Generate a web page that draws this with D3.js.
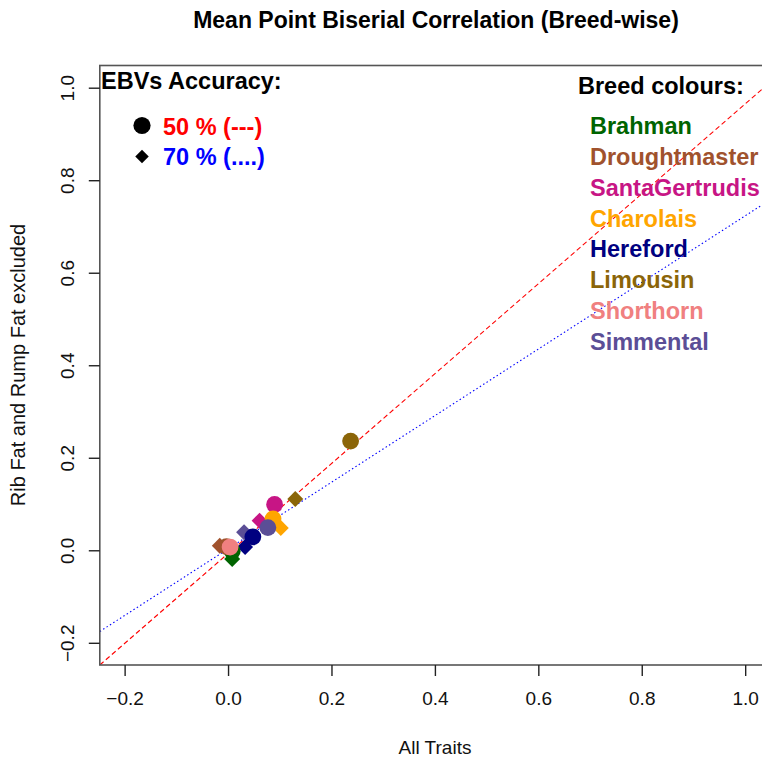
<!DOCTYPE html>
<html><head><meta charset="utf-8">
<script src="https://cdn.jsdelivr.net/npm/d3@7"></script>
<style>body{margin:0;background:#fff}svg{display:block}</style></head>
<body><svg id="c" width="762" height="760"></svg>
<script>
const breeds = ["Brahman","Droughtmaster","SantaGertrudis","Charolais","Hereford","Limousin","Shorthorn","Simmental"];
const breedColors = ["#006400","#A0522D","#C71585","#FFA500","#000080","#8B6508","#F08080","#5B4E96"];
// 50 % accuracy (circles)
const x50 = [0.008, -0.003, 0.090, 0.087, 0.048, 0.237, 0.004, 0.077];
const y50 = [-0.002, 0.008, 0.099, 0.068, 0.029, 0.236, 0.007, 0.049];
// 70 % accuracy (diamonds)
const x70 = [0.008, -0.016, 0.061, 0.102, 0.033, 0.130, 0.001, 0.031];
const y70 = [-0.019, 0.010, 0.064, 0.048, 0.007, 0.111, 0.004, 0.039];
const fitIntercept = [-0.007, 0.003];
const fitSlope = [0.972, 0.720];
const accLabels = ["50 % (---)", "70 % (....)"];
const accColors = ["#FF0000", "#0000FF"];
const xTicks = [-0.2, 0.0, 0.2, 0.4, 0.6, 0.8, 1.0];
const yTicks = [-0.2, 0.0, 0.2, 0.4, 0.6, 0.8, 1.0];

const svg = d3.select("#c");
const L = 99.8, R = 770, T = 65.5, B = 665;
const dom = [-0.248, 1.048];
const x = d3.scaleLinear().domain(dom).range([L, R]);
const y = d3.scaleLinear().domain(dom).range([B, T]);
const font = "'Liberation Sans', Arial, sans-serif";

// title
svg.append("text").attr("x", 436).attr("y", 28).attr("text-anchor", "middle")
  .attr("font-family", font).attr("font-weight", "bold").attr("font-size", 23)
  .text("Mean Point Biserial Correlation (Breed-wise)");

// clip
svg.append("clipPath").attr("id", "pc").append("rect")
  .attr("x", L).attr("y", T).attr("width", R - L).attr("height", B - T);

// fit lines
const g = svg.append("g").attr("clip-path", "url(#pc)");
const dashes = ["5,3", "1.5,2.5"];
fitIntercept.forEach((a, i) => {
  const b = fitSlope[i];
  g.append("line")
    .attr("x1", x(dom[0])).attr("y1", y(a + b * dom[0]))
    .attr("x2", x(dom[1])).attr("y2", y(a + b * dom[1]))
    .attr("stroke", accColors[i]).attr("stroke-width", 1.1)
    .attr("stroke-dasharray", dashes[i]);
});

// points: diamonds first, then circles
const diamond = d3.symbol().type(d3.symbolDiamond2).size(2 * 9 * 9);
g.selectAll("path.d").data(breeds).join("path").attr("class", "d")
  .attr("d", diamond)
  .attr("transform", (d, i) => `translate(${x(x70[i])},${y(y70[i])})`)
  .attr("fill", (d, i) => breedColors[i]);
g.selectAll("circle.c").data(breeds).join("circle").attr("class", "c")
  .attr("cx", (d, i) => x(x50[i])).attr("cy", (d, i) => y(y50[i]))
  .attr("r", 8.4).attr("fill", (d, i) => breedColors[i]);

// frame
svg.append("rect").attr("x", L).attr("y", T).attr("width", R - L).attr("height", B - T)
  .attr("fill", "none").attr("stroke", "#555").attr("stroke-width", 1.6);

// axes
const xa = svg.append("g").attr("transform", `translate(0,${B})`)
  .call(d3.axisBottom(x).tickValues(xTicks).tickFormat(d3.format(".1f")).tickSize(11).tickPadding(16));
xa.select(".domain").remove();
xa.selectAll("line").attr("stroke", "#222").attr("stroke-width", 1.4);
xa.selectAll("text").attr("font-family", font).attr("font-size", 19).attr("fill", "#111");

const ya = svg.append("g").attr("transform", `translate(${L},0)`)
  .call(d3.axisLeft(y).tickValues(yTicks).tickFormat(d3.format(".1f")).tickSize(11));
ya.select(".domain").remove();
ya.selectAll("line").attr("stroke", "#222").attr("stroke-width", 1.4);
ya.selectAll("text").attr("font-family", font).attr("font-size", 19).attr("fill", "#111")
  .attr("text-anchor", "middle").attr("x", 0).attr("dy", 0)
  .attr("transform", "translate(-26,0) rotate(-90)")
  .attr("y", 0);

// axis titles
svg.append("text").attr("x", 435).attr("y", 754).attr("text-anchor", "middle")
  .attr("font-family", font).attr("font-size", 19).attr("fill", "#111").text("All Traits");
svg.append("text").attr("transform", "translate(25,365) rotate(-90)").attr("text-anchor", "middle")
  .attr("font-family", font).attr("font-size", 20).attr("fill", "#111").text("Rib Fat and Rump Fat excluded");

// accuracy legend
svg.append("text").attr("x", 101).attr("y", 88.5).attr("font-family", font).attr("font-weight", "bold")
  .attr("font-size", 23.5).attr("fill", "#000").text("EBVs Accuracy:");
svg.append("circle").attr("cx", 142).attr("cy", 125.5).attr("r", 8.6).attr("fill", "#000");
svg.append("path").attr("d", d3.symbol().type(d3.symbolDiamond2).size(2 * 7.6 * 7.6)())
  .attr("transform", "translate(142,156.5)").attr("fill", "#000");
accLabels.forEach((t, i) => {
  svg.append("text").attr("x", 163).attr("y", 135 + i * 29.5).attr("font-family", font)
    .attr("font-weight", "bold").attr("font-size", 23.5).attr("fill", accColors[i]).text(t);
});

// breed legend
svg.append("text").attr("x", 578).attr("y", 93.5).attr("font-family", font).attr("font-weight", "bold")
  .attr("font-size", 23.5).attr("fill", "#000").text("Breed colours:");
breeds.forEach((b, i) => {
  svg.append("text").attr("x", 590).attr("y", 134 + i * 30.86).attr("font-family", font)
    .attr("font-weight", "bold").attr("font-size", 23.5).attr("fill", breedColors[i]).text(b);
});
</script></body></html>
